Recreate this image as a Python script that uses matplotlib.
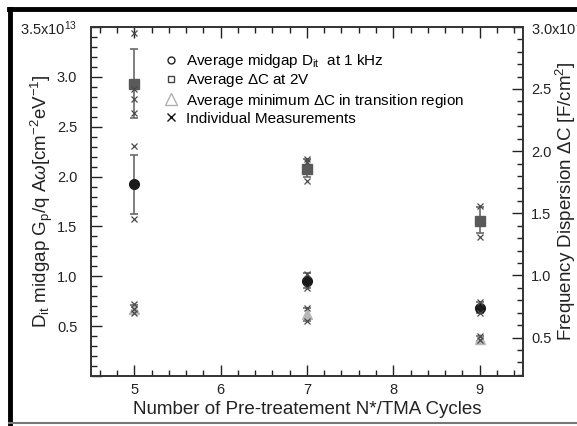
import numpy as np
import matplotlib
matplotlib.use("Agg")
import matplotlib.pyplot as plt
from matplotlib.lines import Line2D
from matplotlib.ticker import MultipleLocator, FuncFormatter

plt.rcParams['font.family'] = ['Liberation Sans', 'DejaVu Sans']
plt.rcParams['mathtext.fontset'] = 'custom'
plt.rcParams['mathtext.rm'] = 'Liberation Sans'
plt.rcParams['mathtext.it'] = 'Liberation Sans:italic'

cycles = [5, 7, 9]

# Dit (left axis, x1e13)
dit_avg = [1.93, 0.95, 0.68]
dit_lo = [1.62, 0.88, 0.63]
dit_hi = [2.22, 1.03, 0.74]
dit_ind = [[2.31, 1.57], [1.02, 0.88], [0.74, 0.63]]

# Delta C at 2V (right axis)
dc_avg = [2.54, 1.86, 1.44]
dc_lo = [2.27, 1.79, 1.34]
dc_hi = [2.82, 1.94, 1.55]
dc_ind = [[2.95, 2.50, 2.42, 2.31], [1.94, 1.91, 1.76], [1.56, 1.31]]

# minimum Delta C in transition region (right axis)
dcmin_avg = [0.73, 0.69, 0.49]
dcmin_lo = [0.70, 0.63, 0.47]
dcmin_hi = [0.76, 0.74, 0.51]
dcmin_ind = [[0.77, 0.73, 0.70], [0.74, 0.63], [0.51, 0.48]]

fig = plt.figure(figsize=(5.77, 4.26), dpi=100)
ax = fig.add_axes([0.158, 0.117, 0.748, 0.820])
ax2 = ax.twinx()

def draw(axis, xs, avg, lo, hi, ind, marker, color, ms, zo):
    yerr = [np.array(avg) - np.array(lo), np.array(hi) - np.array(avg)]
    axis.errorbar(xs, avg, yerr=yerr, fmt='none', ecolor='#6a6a6a', elinewidth=1.2,
                  capsize=3, capthick=1.2, zorder=zo)
    axis.plot(xs, avg, linestyle='none', marker=marker, color=color, ms=ms, zorder=zo + 1)
    for x, vals in zip(xs, ind):
        axis.plot([x] * len(vals), vals, linestyle='none', marker='x', color='#4a4a4a',
                  ms=4, mew=0.9, zorder=zo + 2)

draw(ax, cycles, dit_avg, dit_lo, dit_hi, dit_ind, 'o', '#1a1a1a', 7, 3)
draw(ax2, cycles, dc_avg, dc_lo, dc_hi, dc_ind, 's', '#5a5a5a', 6.5, 3)
draw(ax2, cycles, dcmin_avg, dcmin_lo, dcmin_hi, dcmin_ind, '^', '#b8b8b8', 7, 3)

ax.set_xlim(4.5, 9.5)
ax.set_ylim(0.0, 3.5)
ax2.set_ylim(0.19, 3.0)

ax.xaxis.set_major_locator(MultipleLocator(1))
ax.xaxis.set_minor_locator(MultipleLocator(0.2))
ax.yaxis.set_major_locator(MultipleLocator(0.5))
ax.yaxis.set_minor_locator(MultipleLocator(0.1))
ax2.yaxis.set_major_locator(MultipleLocator(0.5))
ax2.yaxis.set_minor_locator(MultipleLocator(0.1))

ax.yaxis.set_major_formatter(FuncFormatter(
    lambda v, p: r'3.5x10$^{13}$' if abs(v - 3.5) < 1e-6 else ('' if v < 0.4 else f'{v:.1f}')))
ax2.yaxis.set_major_formatter(FuncFormatter(
    lambda v, p: r'3.0x10$^{-7}$' if abs(v - 3.0) < 1e-6 else f'{v:.1f}'))

ax.tick_params(axis='x', which='both', direction='in', top=True, labelsize=10.5, colors='#222222', pad=5)
ax.tick_params(axis='y', which='both', direction='in', labelsize=10.5, colors='#222222', pad=10)
ax2.tick_params(axis='y', which='both', direction='in', labelsize=10.5, colors='#222222', pad=6)
for a in (ax, ax2):
    a.tick_params(which='major', length=8, width=1)
    a.tick_params(which='minor', length=4, width=1)
    for s in a.spines.values():
        s.set_color('#333333')
        s.set_linewidth(1.2)

ax.set_xlabel('Number of Pre-treatement N*/TMA Cycles', fontsize=13.5, color='#222222')
ax.xaxis.set_label_coords(0.5, -0.072)
ax.set_ylabel(r'D$_{\rm it}$ midgap G$_{\rm p}$/q A$\omega$[cm$^{-2}$eV$^{-1}$]', fontsize=13.5, color='#222222')
ax.yaxis.set_label_coords(-0.083, 0.5)
ax2.set_ylabel(r'Frequency Dispersion $\Delta$C [F/cm$^{2}$]', fontsize=13.5, color='#222222')
ax2.yaxis.set_label_coords(1.071, 0.5)

handles = [
    Line2D([], [], linestyle='none', marker='o', mfc='none', mec='#222222', ms=5),
    Line2D([], [], linestyle='none', marker='s', mfc='none', mec='#444444', ms=5),
    Line2D([], [], linestyle='none', marker='^', mfc='none', mec='#b0b0b0', ms=8),
    Line2D([], [], linestyle='none', marker='x', color='#111111', ms=6),
]
labels = [
    r'Average midgap D$_{\rm it}$  at 1 kHz',
    r'Average $\Delta$C at 2V',
    r'Average minimum $\Delta$C in transition region',
    'Individual Measurements',
]
ax.legend(handles, labels, loc='upper left', bbox_to_anchor=(0.15, 0.95), frameon=False,
          fontsize=11, handlelength=1.0, handletextpad=0.5, labelspacing=0.15, borderpad=0)

# black frame around the picture
fig.add_artist(Line2D([0.017, 0.017], [0.0, 0.98], color='black', lw=3.5, transform=fig.transFigure))
fig.add_artist(Line2D([0.015, 1.0], [0.978, 0.978], color='black', lw=3.5, transform=fig.transFigure))
fig.add_artist(Line2D([0.015, 1.0], [0.006, 0.006], color='#777777', lw=1.5, transform=fig.transFigure))

fig.savefig('out.png', dpi=100)
